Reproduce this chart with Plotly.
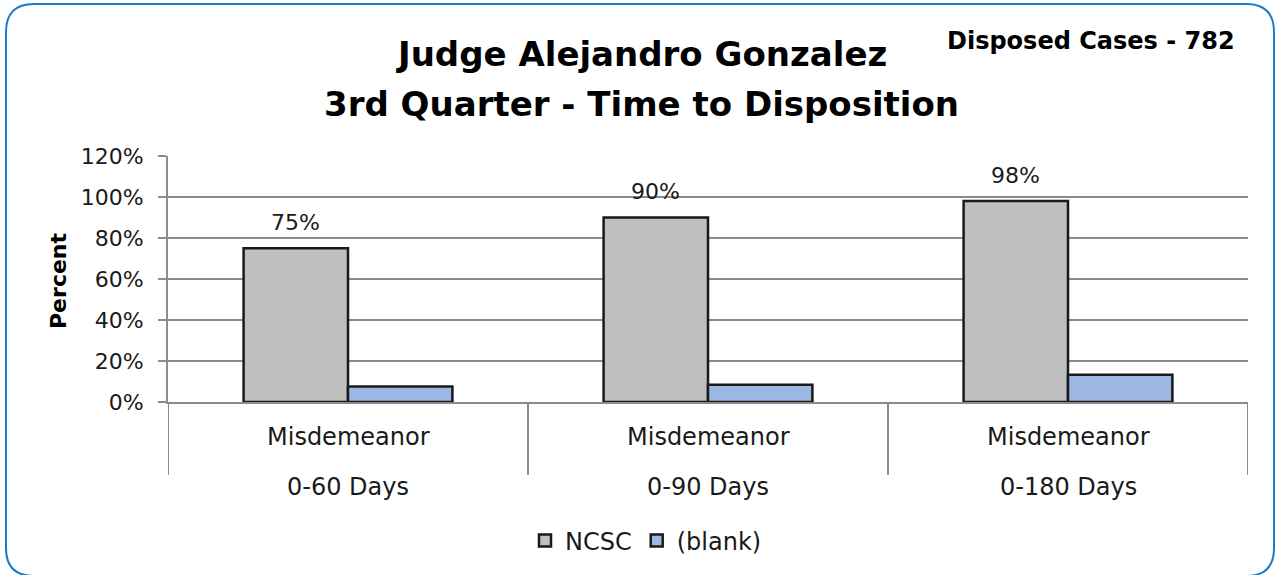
import plotly.graph_objects as go

W, H = 1277, 575
L, R, T, B = 168, 29, 156, 173

periods = ["0-60 Days", "0-90 Days", "0-180 Days"]
case_type = ["Misdemeanor", "Misdemeanor", "Misdemeanor"]
ncsc = [75, 90, 98]
blank = [7.6, 8.4, 13.3]
ncsc_labels = ["75%", "90%", "98%"]
y_ticks = [0, 20, 40, 60, 80, 100, 120]
y_tick_text = ["0%", "20%", "40%", "60%", "80%", "100%", "120%"]

FONT = "DejaVu Sans"
BARGAP = 0.42

def px(x):
    return (x - L) / (W - L - R)

def py(y):
    return (H - B - y) / (H - T - B)

fig = go.Figure()
fig.add_trace(go.Bar(
    name="NCSC", x=periods, y=ncsc,
    marker=dict(color="#BFBFBF", line=dict(color="#1a1a1a", width=2.5)),
))
fig.add_trace(go.Bar(
    name="(blank)", x=periods, y=blank,
    marker=dict(color="#9DB7E4", line=dict(color="#1a1a1a", width=2.5)),
))

# data labels above the NCSC bars (left bar of each group)
off = -(1 - BARGAP) / 4
for i, (v, lab) in enumerate(zip(ncsc, ncsc_labels)):
    fig.add_annotation(x=i + off, y=v, xref="x", yref="y", text=lab, showarrow=False,
                       xanchor="center", yanchor="middle", yshift=26,
                       font=dict(size=22, family=FONT, color="#1a1a1a"))

# category labels (two levels) and dividers
for i, (c, p) in enumerate(zip(case_type, periods)):
    fig.add_annotation(x=i, y=py(437), xref="x", yref="paper", text=c, showarrow=False,
                       xanchor="center", yanchor="middle",
                       font=dict(size=24, family=FONT, color="#1a1a1a"))
    fig.add_annotation(x=i, y=py(487), xref="x", yref="paper", text=p, showarrow=False,
                       xanchor="center", yanchor="middle",
                       font=dict(size=24, family=FONT, color="#1a1a1a"))
for k in range(len(periods) + 1):
    fig.add_shape(type="line", x0=k - 0.5, x1=k - 0.5, y0=0, y1=py(475),
                  xref="x", yref="paper", line=dict(color="#8C8C8C", width=2))

# rounded border
x0, y0, x1, y1, r = 6, 4, 1274, 576, 28
path = (f"M {px(x0+r)},{py(y0)} L {px(x1-r)},{py(y0)} Q {px(x1)},{py(y0)} {px(x1)},{py(y0+r)} "
        f"L {px(x1)},{py(y1-r)} Q {px(x1)},{py(y1)} {px(x1-r)},{py(y1)} "
        f"L {px(x0+r)},{py(y1)} Q {px(x0)},{py(y1)} {px(x0)},{py(y1-r)} "
        f"L {px(x0)},{py(y0+r)} Q {px(x0)},{py(y0)} {px(x0+r)},{py(y0)} Z")
fig.add_shape(type="path", path=path, xref="paper", yref="paper",
              line=dict(color="#1B7BC9", width=2), layer="above")

fig.add_annotation(text="<b>Judge Alejandro Gonzalez</b>", x=px(641), y=py(54),
                   xref="paper", yref="paper", showarrow=False, xanchor="center", yanchor="middle",
                   font=dict(size=34, family=FONT, color="#000"))
fig.add_annotation(text="<b>3rd Quarter - Time to Disposition</b>", x=px(641), y=py(104),
                   xref="paper", yref="paper", showarrow=False, xanchor="center", yanchor="middle",
                   font=dict(size=34, family=FONT, color="#000"))
fig.add_annotation(text="<b>Disposed Cases - 782</b>", x=px(1091), y=py(41),
                   xref="paper", yref="paper", showarrow=False, xanchor="center", yanchor="middle",
                   font=dict(size=24, family=FONT, color="#000"))
fig.add_annotation(text="<b>Percent</b>", x=px(58), y=py(281), textangle=-90,
                   xref="paper", yref="paper", showarrow=False, xanchor="center", yanchor="middle",
                   font=dict(size=22, family=FONT, color="#000"))

fig.update_layout(
    width=W, height=H,
    margin=dict(l=L, r=R, t=T, b=B, autoexpand=False),
    paper_bgcolor="white", plot_bgcolor="white",
    barmode="group", bargap=BARGAP, bargroupgap=0.0,
    font=dict(family=FONT, color="#1a1a1a"),
    showlegend=True,
    legend=dict(orientation="h", x=px(646), xanchor="center", y=py(541), yanchor="middle",
                font=dict(size=24, family=FONT, color="#1a1a1a"), itemwidth=30,
                bgcolor="rgba(0,0,0,0)"),
    xaxis=dict(
        type="category", range=[-0.5, len(periods) - 0.5],
        showline=True, linecolor="#8C8C8C", linewidth=2,
        showticklabels=False, ticks="", automargin=False,
    ),
    yaxis=dict(
        range=[0, 120], tickmode="array", tickvals=y_ticks, ticktext=y_tick_text,
        showgrid=True, gridcolor="#8C8C8C", gridwidth=1.5,
        showline=True, linecolor="#8C8C8C", linewidth=2,
        ticks="outside", ticklen=8, tickcolor="#8C8C8C", tickwidth=2,
        ticklabelstandoff=10,
        tickfont=dict(size=22, family=FONT, color="#1a1a1a"),
        automargin=False, zeroline=False,
    ),
)

fig.write_html("out.html", post_script="document.body.style.margin='0';",
               config={"displayModeBar": False})
